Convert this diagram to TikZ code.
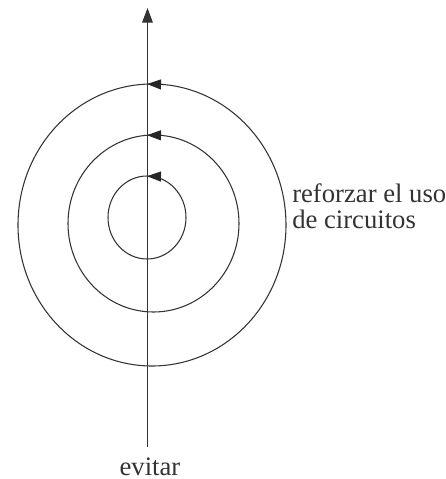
\documentclass[tikz,border=0pt]{standalone}
\usepackage{fontspec}
\setmainfont{Liberation Serif}
\usetikzlibrary{positioning, arrows.meta}
\tikzset{
  ring/.style={draw=black!80, line width=0.8pt},
  spin/.style={draw=black!85, line width=0.8pt, -{Triangle[length=10.5pt, width=7.5pt]}},
  lbl/.style={text=black!80, font=\fontsize{20}{19.5}\selectfont, inner sep=0pt}
}

\begin{document}
\begin{tikzpicture}[x=0.75pt, y=-0.75pt]
  \useasboundingbox (0,0) rectangle (446,479);
  % rings
  \draw[ring] (152,225) ellipse [x radius=134, y radius=141];
  \draw[ring] (153.5,223.5) ellipse [x radius=85.5, y radius=88.5];
  \draw[ring] (147,217.5) ellipse [x radius=39, y radius=41.5];
  % axis
  \coordinate (bot) at (147.5,447);
  \coordinate (top) at (147.5,8);
  \draw[ring, -{Triangle[length=11pt, width=8pt]}] (bot) -- (top);
  \node[lbl, anchor=base] (evitar) at (150,475) {evitar};
  \node[lbl, align=left, anchor=north west] (refuerzo) at (292,183) {reforzar el uso\\de circuitos};
  % turning arrows
  \coordinate (o1) at (163,84.5);  \coordinate (o2) at (147,84);
  \coordinate (m1) at (162,135.3); \coordinate (m2) at (147,135.2);
  \coordinate (i1) at (160,176.5); \coordinate (i2) at (147,176.2);
  \draw[spin] (o1) -- (o2);
  \draw[spin] (m1) -- (m2);
  \draw[spin] (i1) -- (i2);
\end{tikzpicture}
\end{document}
